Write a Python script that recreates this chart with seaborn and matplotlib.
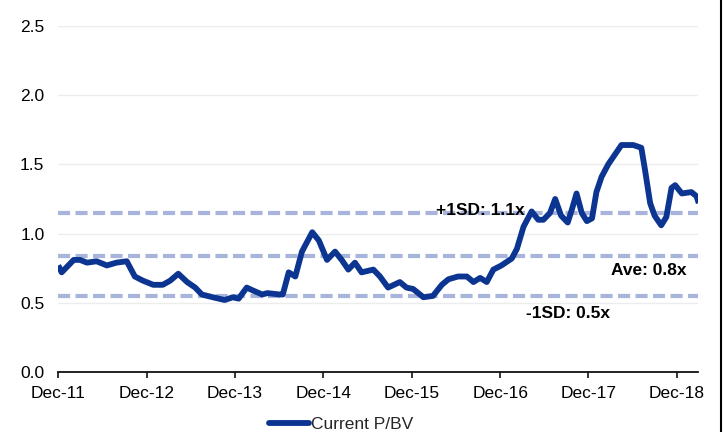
import numpy as np
import pandas as pd
import matplotlib
matplotlib.use("Agg")
import matplotlib.pyplot as plt
import matplotlib.dates as mdates
from matplotlib.lines import Line2D
import seaborn as sns

# ---- data ----
# months elapsed since Dec-2011 and the Current P/BV value at that point
months = [0.0, 0.46, 2.1, 2.95, 3.9, 5.2, 6.6, 7.9, 9.3, 10.4, 11.5, 12.9, 14.2,
          15.2, 16.3, 17.5, 18.6, 19.5, 21.0, 22.6, 23.7, 24.5, 25.6, 26.4, 27.7,
          28.4, 30.1, 30.5, 31.3, 32.2, 33.1, 34.5, 35.4, 36.5, 37.6, 38.5, 39.4,
          40.3, 41.2, 42.8, 43.7, 44.8, 46.4, 47.3, 48.2, 49.6, 50.9, 52.1, 53.0,
          54.3, 55.5, 56.4, 57.3, 58.2, 59.1, 60.2, 61.6, 62.3, 63.2, 64.3, 65.2,
          65.9, 66.8, 67.5, 68.3, 69.2, 69.8, 70.4, 71.1, 71.8, 72.5, 73.1, 73.8,
          74.7, 75.6, 76.5, 78.1, 79.2, 79.7, 80.4, 81.0, 81.9, 82.6, 83.3, 83.8,
          84.7, 86.0, 86.7, 87.0]
pbv = [0.77, 0.72, 0.81, 0.81, 0.79, 0.80, 0.77, 0.79, 0.80, 0.69, 0.66, 0.63, 0.63,
       0.66, 0.71, 0.65, 0.61, 0.56, 0.54, 0.52, 0.54, 0.53, 0.61, 0.59, 0.56,
       0.57, 0.56, 0.56, 0.72, 0.69, 0.87, 1.01, 0.95, 0.81, 0.87, 0.81, 0.74,
       0.79, 0.72, 0.74, 0.69, 0.61, 0.65, 0.61, 0.60, 0.54, 0.55, 0.63, 0.67,
       0.69, 0.69, 0.65, 0.68, 0.65, 0.74, 0.77, 0.82, 0.89, 1.05, 1.16, 1.10,
       1.10, 1.15, 1.25, 1.13, 1.08, 1.18, 1.29, 1.15, 1.09, 1.11, 1.30, 1.41,
       1.50, 1.57, 1.64, 1.64, 1.62, 1.46, 1.22, 1.13, 1.06, 1.12, 1.33, 1.35,
       1.29, 1.30, 1.27, 1.22]
plus_1sd = 1.147
average = 0.84
minus_1sd = 0.547
series_name = "Current P/BV"
y_ticks = [0.0, 0.5, 1.0, 1.5, 2.0, 2.5]

base = pd.Timestamp("2011-12-01")
dates = base + pd.to_timedelta(np.array(months) * 30.4375, unit="D")
df = pd.DataFrame({"date": dates, series_name: pbv})

# ---- style ----
sns.set_style("white")
plt.rcParams["font.family"] = ["Liberation Sans", "DejaVu Sans"]

fig = plt.figure(figsize=(7.23, 4.32), dpi=100)
ax = fig.add_axes([0.0806, 0.1389, 0.8855, 0.8009])

line_col = "#0b3590"
dash_col = "#a9b4dc"

# reference lines
for val in (plus_1sd, average, minus_1sd):
    ax.axhline(val, color=dash_col, lw=3, linestyle=(0, (2.9, 1.3)),
               dash_capstyle="butt", zorder=2)

sns.lineplot(data=df, x="date", y=series_name, ax=ax, color=line_col, lw=4.2,
             label=series_name, zorder=3, solid_capstyle="butt",
             solid_joinstyle="round")

end = base + pd.DateOffset(months=87)
ax.set_xlim(base, end)
ax.set_ylim(0, 2.5)
ax.set_yticks(y_ticks)
ax.set_yticklabels([f"{v:.1f}" for v in y_ticks])
ticks = pd.date_range("2011-12-01", "2018-12-01", freq="12MS")
ax.set_xticks(ticks)
ax.xaxis.set_major_formatter(mdates.DateFormatter("%b-%y"))
ax.set_xlabel("")
ax.set_ylabel("")

ax.grid(axis="y", color="#ececec", lw=1)
ax.set_axisbelow(True)
for s in ("top", "right", "left"):
    ax.spines[s].set_visible(False)
ax.spines["bottom"].set_color("#111111")
ax.spines["bottom"].set_linewidth(1.3)
ax.spines["bottom"].set_zorder(4)
ax.tick_params(axis="y", length=0, pad=10, labelsize=12.5, labelcolor="black")
ax.tick_params(axis="x", direction="out", length=4, width=1.2, color="#111111",
               pad=6, labelsize=12.5, labelcolor="black", bottom=True)

def month_x(m):
    return base + pd.Timedelta(days=m * 30.4375)

ax.text(month_x(63.4), 1.134, f"+1SD: {plus_1sd:.1f}x", ha="right", va="baseline",
        fontsize=12.5, fontweight="bold", color="black", zorder=5)
ax.text(month_x(85.4), 0.70, f"Ave: {average:.1f}x", ha="right", va="baseline",
        fontsize=12.5, fontweight="bold", color="black", zorder=5)
ax.text(month_x(74.9), 0.388, f"-1SD: {minus_1sd:.1f}x", ha="right", va="baseline",
        fontsize=12.5, fontweight="bold", color="black", zorder=5)

ax.legend_.remove()
fig.legend(handles=[Line2D([0], [0], color=line_col, lw=4.2)], labels=[series_name],
           loc="center", bbox_to_anchor=(341 / 723, 1 - 424 / 432), frameon=False,
           fontsize=12.5, handlelength=2.3, handletextpad=0.1, borderpad=0)

fig.add_artist(Line2D([0.9975, 0.9975], [0, 1], transform=fig.transFigure,
                      color="black", lw=1.5))

fig.savefig("out.png", dpi=100)
